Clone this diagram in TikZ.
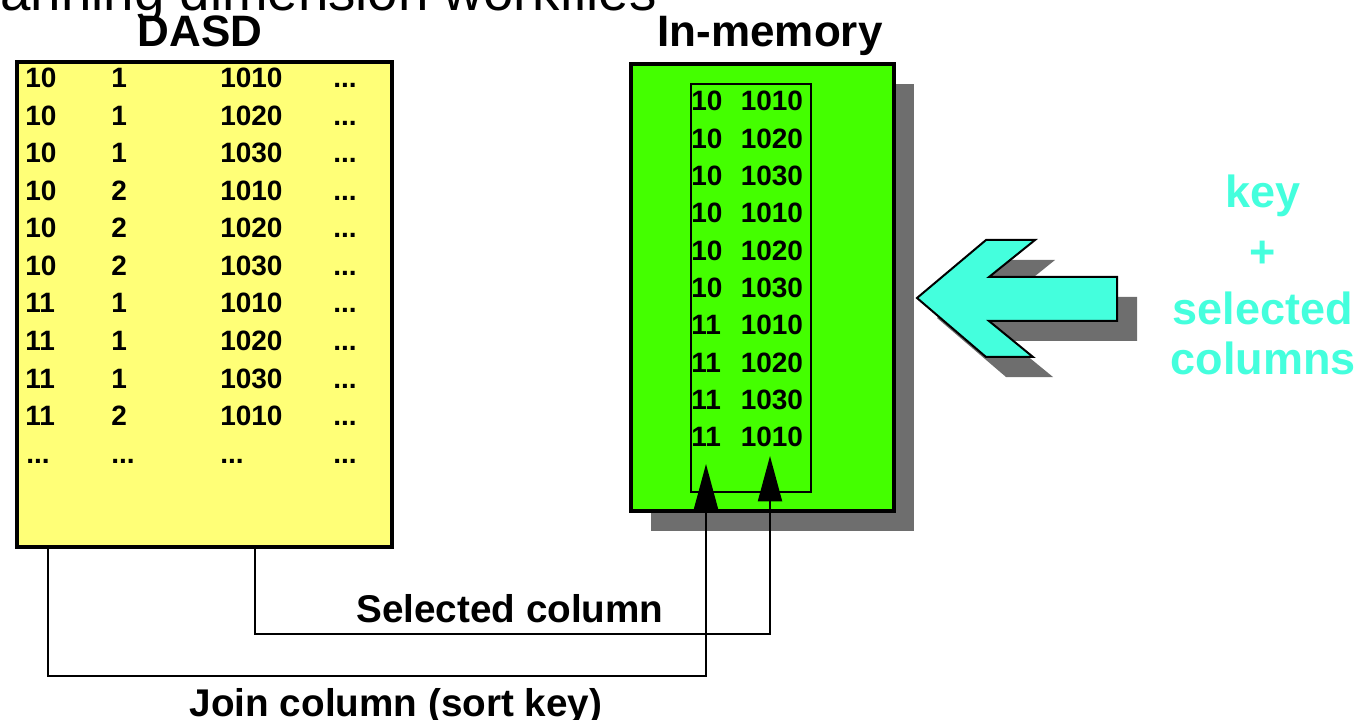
\documentclass[tikz,border=0pt]{standalone}
\usepackage{fontspec}
\setmainfont{Liberation Sans}
\usetikzlibrary{arrows.meta,calc,shadows}

\definecolor{dasdyellow}{HTML}{FFFF77}
\definecolor{memgreen}{HTML}{44FF00}
\definecolor{aqua}{HTML}{44FFDD}
\definecolor{shadowgray}{HTML}{6E6E6E}

\tikzset{
  heading/.style={anchor=base, inner sep=0pt, font=\fontsize{33}{33}\selectfont\bfseries},
  cell/.style={anchor=base west, inner sep=0pt, font=\fontsize{21}{21}\selectfont\bfseries},
  note/.style={anchor=base, inner sep=0pt, font=\fontsize{29}{29}\selectfont\bfseries},
  keytext/.style={anchor=base, inner sep=0pt, text=aqua, font=\fontsize{33.75}{33.75}\selectfont\bfseries},
  panel/.style={draw=black, line width=3pt, inner sep=0pt},
  conn/.style={draw=black, line width=1.5pt},
  tip/.style={-{Triangle[length=34pt,width=18pt]}},
}

\begin{document}
\begin{tikzpicture}[x=0.75pt, y=-0.75pt]
\useasboundingbox (0,0) rectangle (1364,720);

% page heading, partly above the visible area
\node[anchor=base east, inner sep=0pt, font=\fontsize{41}{41}\selectfont] (pagehead) at (657,11) {Scanning dimension workfiles};

% ---- DASD table ----
\node[heading] (dasdtitle) at (200,47) {DASD};
\node[panel, fill=dasdyellow, minimum width=281.25pt, minimum height=364.1pt] (dasd) at (204.5,304.25) {};

\foreach \a/\b/\c [count=\i from 0] in {10/1/1010, 10/1/1020, 10/1/1030, 10/2/1010, 10/2/1020, 10/2/1030, 11/1/1010, 11/1/1020, 11/1/1030, 11/2/1010}{
  \node[cell] (r\i a) at (25, 88+37.5*\i) {\a};
  \node[cell] (r\i b) at (111, 88+37.5*\i) {\b};
  \node[cell] (r\i c) at (220, 88+37.5*\i) {\c};
  \node[cell] (r\i d) at (333, 88+37.5*\i) {...};
}
\node[cell] (more a) at (26, 463) {...};
\node[cell] (more b) at (111, 463) {...};
\node[cell] (more c) at (220, 463) {...};
\node[cell] (more d) at (333, 463) {...};

% ---- in-memory table ----
\node[heading] (memtitle) at (770,47) {In-memory};
\node[panel, fill=memgreen, minimum width=197.25pt, minimum height=335.25pt,
      drop shadow={shadow xshift=15pt, shadow yshift=-15pt, fill=shadowgray, opacity=1}] (mem) at (762.5,287.5) {};
\node[draw=black, line width=1.5pt, inner sep=0pt, minimum width=90pt, minimum height=306pt] (keys) at (751,288) {};

\foreach \a/\c [count=\i from 0] in {10/1010, 10/1020, 10/1030, 10/1010, 10/1020, 10/1030, 11/1010, 11/1020, 11/1030, 11/1010}{
  \node[cell] (m\i a) at (691, 111+37.33*\i) {\a};
  \node[cell] (m\i c) at (740.5, 111+37.33*\i) {\c};
}

% ---- connectors from the DASD columns into the key area ----
\coordinate (joinsrc) at (48,547);
\coordinate (joinlow) at (48,676);
\coordinate (jointip) at (706,464);
\coordinate (selsrc) at (255,547);
\coordinate (sellow) at (255,634);
\coordinate (seltip) at (770,456);

\draw[conn, tip] (joinsrc) -- (joinlow) -| (jointip);
\draw[conn, tip] (selsrc) -- (sellow) -| (seltip);

\node[note] (sellabel) at (510,622) {Selected column};
\node[note] (joinlabel) at (396,716) {Join column (sort key)};

% ---- incoming block arrow with its shadow ----
\fill[shadowgray, shift={(20,20)}]
  (917,298) -- (986,240) -- (1035,240) -- (989,277) -- (1117,277)
  -- (1117,321) -- (989,321) -- (1033,357) -- (986,357) -- cycle;
\draw[fill=aqua, line width=1.5pt, line join=miter]
  (917,298) -- (986,240) -- (1035,240) -- (989,277) -- (1117,277)
  -- (1117,321) -- (989,321) -- (1033,357) -- (986,357) -- cycle;

\node[keytext] (kkey) at (1263,208) {key};
\node[keytext] (kplus) at (1263,268) {+};
\node[keytext] (ksel) at (1263,325) {selected};
\node[keytext] (kcols) at (1263,374) {columns};
\end{tikzpicture}
\end{document}
